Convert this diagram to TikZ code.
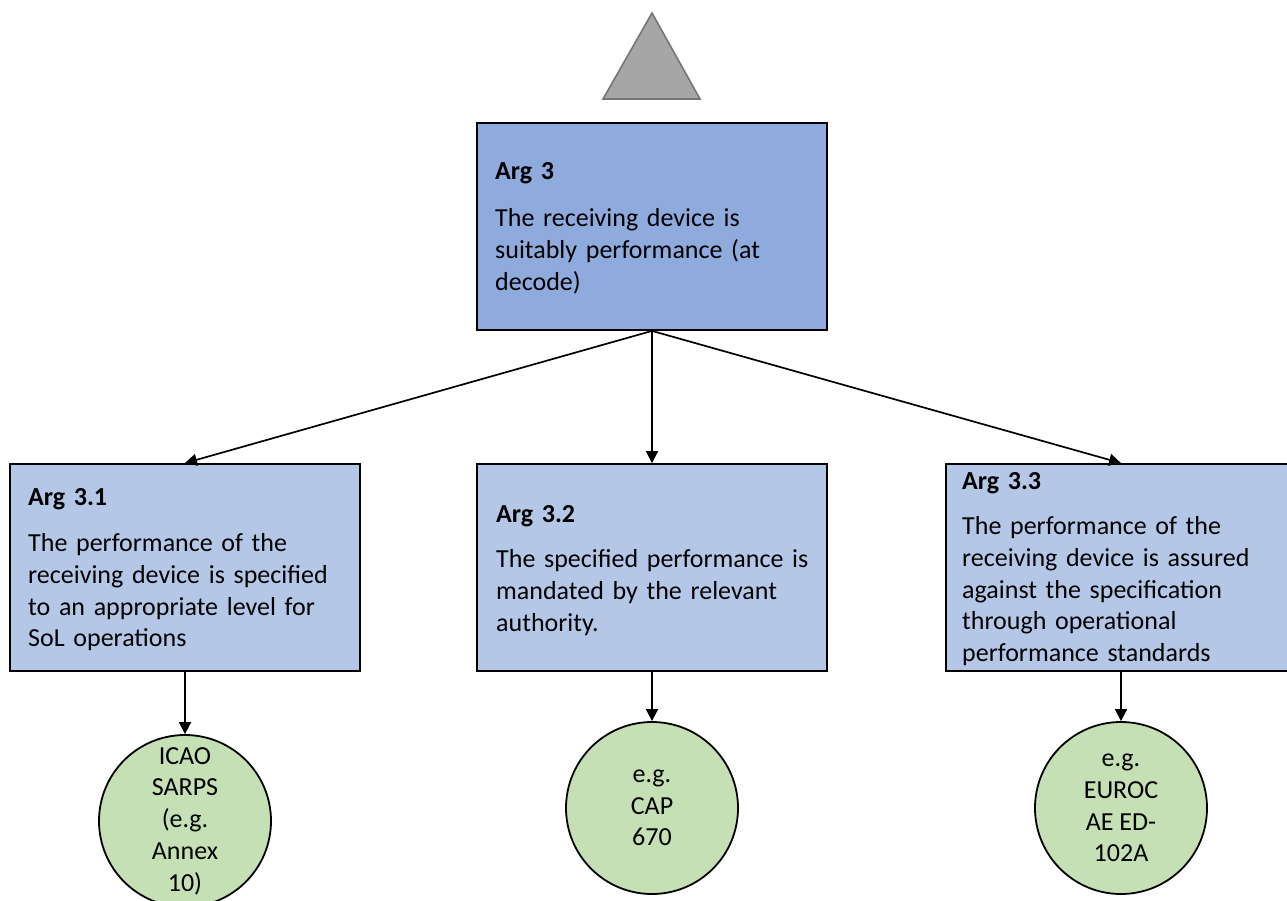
\documentclass[tikz,border=0pt]{standalone}
\usepackage{fontspec}
\setmainfont{Carlito}
\usetikzlibrary{arrows.meta}

\definecolor{toparg}{HTML}{8FAADC}
\definecolor{subarg}{HTML}{B4C7E7}
\definecolor{evid}{HTML}{C5E0B4}
\definecolor{trifill}{HTML}{A6A6A6}
\definecolor{triline}{HTML}{767676}

\tikzset{
  argbox/.style={draw=black, line width=1.8pt, rectangle, inner sep=0pt,
                 minimum width=350pt, minimum height=207pt},
  argtext/.style={anchor=base west, inner sep=0pt, text width=340pt, align=left,
                  font=\fontsize{26}{31.7}\selectfont},
  evidence/.style={draw=black, line width=1.8pt, circle, fill=evid, inner sep=0pt,
                   minimum size=172pt, align=center,
                   font=\fontsize{26}{31.7}\selectfont},
  link/.style={line width=1.7pt, -{Triangle[length=12pt,width=12pt]}}
}

\begin{document}
\begin{tikzpicture}[x=1pt, y=-1pt]
  \useasboundingbox (0,0) rectangle (1287,901);

  % goal marker above the top argument
  \draw[fill=trifill, draw=triline, line width=1.6pt, line join=miter]
    (652,13) -- (700,99) -- (603,99) -- cycle;

  % argument boxes
  \node[argbox, fill=toparg] (a3)  at (652,226.5) {};
  \node[argbox, fill=subarg] (a31) at (185,567.5) {};
  \node[argbox, fill=subarg] (a32) at (652,567.5) {};
  \node[argbox, fill=subarg] (a33) at (1121,567.5) {};

  % argument texts
  \node[argtext] (t3) at (495,180)
    {\textbf{Arg 3}\\[15pt]
     The receiving device is\\
     suitably performance (at\\
     decode)};
  \node[argtext] (t31) at (28,505)
    {\textbf{Arg 3.1}\\[15pt]
     The performance of the\\
     receiving device is specified\\
     to an appropriate level for\\
     SoL operations};
  \node[argtext] (t32) at (496,522)
    {\textbf{Arg 3.2}\\[14pt]
     The specified performance is\\
     mandated by the relevant\\
     authority.};
  \node[argtext] (t33) at (962,489)
    {\textbf{Arg 3.3}\\[14pt]
     The performance of the\\
     receiving device is assured\\
     against the specification\\
     through operational\\
     performance standards};

  % evidence circles
  \node[evidence] (c1) at (185,821) {ICAO\\SARPS\\(e.g.\\Annex\\10)};
  \node[evidence] (c2) at (652,808) {e.g.\\CAP\\670};
  \node[evidence] (c3) at (1121,808) {e.g.\\EUROC\\AE ED-\\102A};

  % connectors
  \draw[link] (a3.south) -- (a31.north);
  \draw[link] (a3.south) -- (a32.north);
  \draw[link] (a3.south) -- (a33.north);
  \draw[link] (a31.south) -- (c1.north);
  \draw[link] (a32.south) -- (c2.north);
  \draw[link] (a33.south) -- (c3.north);
\end{tikzpicture}
\end{document}
